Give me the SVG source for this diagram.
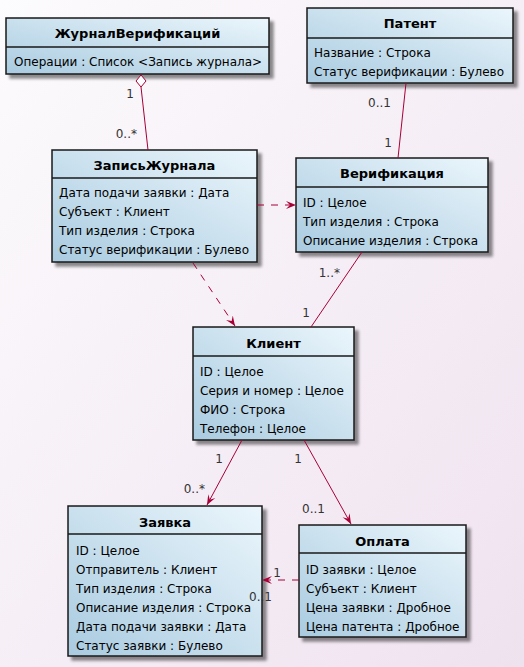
<svg xmlns="http://www.w3.org/2000/svg" width="524" height="667" viewBox="0 0 524 667">
<defs>
<linearGradient id="bg" x1="0" y1="0" x2="1" y2="1"><stop offset="0" stop-color="#FCFBFD"/><stop offset="1" stop-color="#EFE2EF"/></linearGradient>
<linearGradient id="cls" x1="0" y1="1" x2="1" y2="0"><stop offset="0" stop-color="#A9CBE0"/><stop offset="1" stop-color="#EBF6FC"/></linearGradient>
<filter id="sh" x="-10%" y="-10%" width="130%" height="130%"><feGaussianBlur in="SourceAlpha" stdDeviation="1.5"/><feOffset dx="4" dy="4"/><feComponentTransfer><feFuncA type="linear" slope="0.45"/></feComponentTransfer><feMerge><feMergeNode/><feMergeNode in="SourceGraphic"/></feMerge></filter>
<marker id="arr" viewBox="0 0 10 10" refX="10" refY="5" markerWidth="10" markerHeight="10" markerUnits="userSpaceOnUse" orient="auto"><path d="M0,1 L10,5 L0,9 L4,5 Z" fill="#A80036"/></marker>
</defs>
<style>
.box{fill:url(#cls);stroke:#181818;stroke-width:1.5;filter:url(#sh)}
.div{stroke:#181818;stroke-width:1.5}
.t{font-family:"DejaVu Sans",sans-serif;font-size:13px;font-weight:bold;fill:#000;text-anchor:middle}
.a{font-family:"DejaVu Sans",sans-serif;font-size:12px;fill:#000}
.l{font-family:"DejaVu Sans",sans-serif;font-size:12px;fill:#333}
.c{stroke:#A80036;stroke-width:1;fill:none}
.d{stroke-dasharray:7,7}
</style>
<rect width="524" height="667" fill="url(#bg)"/>
<g id="ZhurnalVerifikatsiy">
<rect class="box" x="6" y="18" width="263" height="56"/>
<line class="div" x1="6" y1="47" x2="269" y2="47"/>
<text class="t" x="137.5" y="38">ЖурналВерификаций</text>
<text class="a" x="14" y="66">Операции : Список &lt;Запись журнала&gt;</text>
</g>
<g id="Patent">
<rect class="box" x="307" y="8" width="206" height="75"/>
<line class="div" x1="307" y1="38" x2="513" y2="38"/>
<text class="t" x="410" y="28">Патент</text>
<text class="a" x="314" y="57">Название : Строка</text>
<text class="a" x="314" y="76">Статус верификации : Булево</text>
</g>
<g id="ZapisZhurnala">
<rect class="box" x="52" y="150" width="205" height="112"/>
<line class="div" x1="52" y1="178" x2="257" y2="178"/>
<text class="t" x="154.5" y="170">ЗаписьЖурнала</text>
<text class="a" x="59" y="197">Дата подачи заявки : Дата</text>
<text class="a" x="59" y="216">Субъект : Клиент</text>
<text class="a" x="59" y="235">Тип изделия : Строка</text>
<text class="a" x="59" y="254">Статус верификации : Булево</text>
</g>
<g id="Verifikatsiya">
<rect class="box" x="296" y="158" width="192" height="94"/>
<line class="div" x1="296" y1="187" x2="488" y2="187"/>
<text class="t" x="392" y="178">Верификация</text>
<text class="a" x="303" y="207">ID : Целое</text>
<text class="a" x="303" y="226">Тип изделия : Строка</text>
<text class="a" x="303" y="245">Описание изделия : Строка</text>
</g>
<g id="Klient">
<rect class="box" x="193" y="327" width="161" height="113"/>
<line class="div" x1="193" y1="356" x2="354" y2="356"/>
<text class="t" x="273.5" y="348">Клиент</text>
<text class="a" x="200" y="376">ID :  Целое</text>
<text class="a" x="200" y="395">Серия и номер : Целое</text>
<text class="a" x="200" y="414">ФИО : Строка</text>
<text class="a" x="200" y="433">Телефон : Целое</text>
</g>
<g id="Zayavka">
<rect class="box" x="68" y="506" width="194" height="150"/>
<line class="div" x1="68" y1="534" x2="262" y2="534"/>
<text class="t" x="165" y="527">Заявка</text>
<text class="a" x="76" y="555">ID : Целое</text>
<text class="a" x="76" y="574">Отправитель : Клиент</text>
<text class="a" x="76" y="593">Тип изделия : Строка</text>
<text class="a" x="76" y="612">Описание изделия : Строка</text>
<text class="a" x="76" y="631">Дата подачи заявки : Дата</text>
<text class="a" x="76" y="650">Статус заявки : Булево</text>
</g>
<g id="Oplata">
<rect class="box" x="299" y="525" width="167" height="112"/>
<line class="div" x1="299" y1="553" x2="466" y2="553"/>
<text class="t" x="382.5" y="546">Оплата</text>
<text class="a" x="306" y="574">ID заявки : Целое</text>
<text class="a" x="306" y="593">Субъект : Клиент</text>
<text class="a" x="306" y="612">Цена заявки : Дробное</text>
<text class="a" x="306" y="631">Цена патента : Дробное</text>
</g>
<g id="connectors">
<line class="c" x1="141" y1="87" x2="148" y2="150"/>
<polygon points="141,75 146,81 141,87 136,81" fill="#fff" stroke="#A80036"/>
<line class="c" x1="406" y1="83" x2="398" y2="158"/>
<line class="c d" x1="257" y1="205" x2="296" y2="205" marker-end="url(#arr)"/>
<line class="c d" x1="193" y1="263" x2="235" y2="326" marker-end="url(#arr)"/>
<line class="c" x1="362" y1="252" x2="311" y2="327"/>
<line class="c" x1="242" y1="440" x2="207" y2="505" marker-end="url(#arr)"/>
<line class="c" x1="304" y1="440" x2="351" y2="524" marker-end="url(#arr)"/>
<line class="c d" x1="299" y1="580" x2="262" y2="580" marker-end="url(#arr)"/>
<text class="l" x="130" y="98" text-anchor="middle">1</text>
<text class="l" x="137" y="138" text-anchor="end">0..*</text>
<text class="l" x="391" y="107" text-anchor="end">0..1</text>
<text class="l" x="388" y="147" text-anchor="middle">1</text>
<text class="l" x="340" y="277" text-anchor="end">1..*</text>
<text class="l" x="306" y="317" text-anchor="middle">1</text>
<text class="l" x="219" y="463" text-anchor="middle">1</text>
<text class="l" x="205" y="493" text-anchor="end">0..*</text>
<text class="l" x="298" y="463" text-anchor="middle">1</text>
<text class="l" x="325" y="513" text-anchor="end">0..1</text>
<text class="l" x="277" y="577" text-anchor="middle">1</text>
<text class="l" x="272" y="601" text-anchor="end">0..1</text>
</g>
</svg>
